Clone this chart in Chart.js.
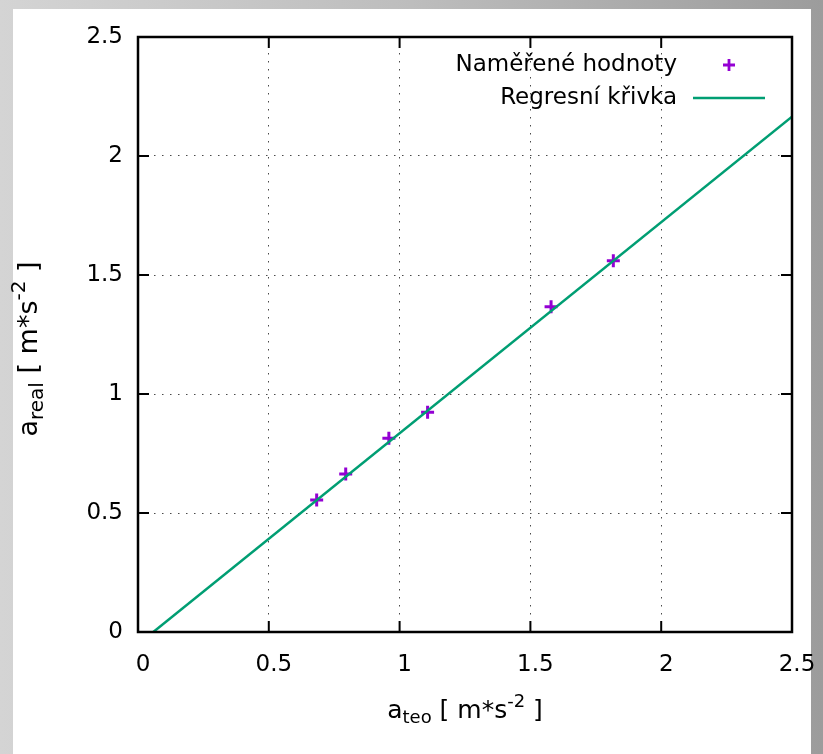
<!DOCTYPE html>
<html><head><meta charset="utf-8">
<script src="https://cdn.jsdelivr.net/npm/chart.js@4/dist/chart.umd.min.js"></script>
<style>
html,body{margin:0;padding:0;width:823px;height:754px;overflow:hidden;}
body{background:linear-gradient(to right,#d4d4d4,#bdbdbd 50%,#9c9c9c);position:relative;}
#paper{position:absolute;left:13px;top:9px;width:798px;height:745px;background:#fff;}
canvas{position:absolute;left:0;top:0;}
</style></head><body>
<div id="paper"></div>
<canvas id="c" width="823" height="754"></canvas>
<script>
const measuredX=[0.683,0.794,0.959,1.107,1.579,1.817];
const measuredY=[0.555,0.664,0.814,0.923,1.367,1.560];
const fitX=[0.0585,2.5];
const fitY=[0,2.165];
const xTicks=[0,0.5,1,1.5,2,2.5];
const yTicks=[0,0.5,1,1.5,2,2.5];
const seriesNames=['Naměřené hodnoty','Regresní křivka'];
const xTitle=[['a',''],['teo','sub'],[' [ m*s',''],['-2','sup'],[' ]','']];
const yTitle=[['a',''],['real','sub'],[' [ m*s',''],['-2','sup'],[' ]','']];

const FONT='"DejaVu Sans"';
const PURPLE='#9400d3', GREEN='#009e73';

function drawRich(ctx,parts,cx,cy,rot,big,small,subDy,supDy){
  ctx.save(); ctx.translate(cx,cy); ctx.rotate(rot);
  const fs=t=>t?(small+'px '+FONT):(big+'px '+FONT);
  let w=0; parts.forEach(([s,t])=>{ctx.font=fs(t); w+=ctx.measureText(s).width;});
  let x=-w/2; ctx.textBaseline='alphabetic'; ctx.textAlign='left'; ctx.fillStyle='#000';
  parts.forEach(([s,t])=>{ctx.font=fs(t); const dy=t==='sub'?subDy:(t==='sup'?supDy:0); ctx.fillText(s,x,dy); x+=ctx.measureText(s).width;});
  ctx.restore();
}

const framePlugin={id:'frame',afterDatasetsDraw(chart){
  const {ctx,chartArea:a,scales:{x,y}}=chart;
  ctx.save(); ctx.strokeStyle='#000'; ctx.lineWidth=2; ctx.setLineDash([]);
  ctx.beginPath();
  xTicks.forEach(v=>{const p=x.getPixelForValue(v); ctx.moveTo(p,a.bottom); ctx.lineTo(p,a.bottom-11); ctx.moveTo(p,a.top); ctx.lineTo(p,a.top+11);});
  yTicks.forEach(v=>{const p=y.getPixelForValue(v); ctx.moveTo(a.left,p); ctx.lineTo(a.left+11,p); ctx.moveTo(a.right,p); ctx.lineTo(a.right-11,p);});
  ctx.stroke();
  ctx.lineWidth=2.5;
  ctx.strokeRect(a.left,a.top,a.right-a.left,a.bottom-a.top);
  ctx.restore();
}};

const legendPlugin={id:'gleg',afterDraw(chart){
  const {ctx,chartArea:a}=chart;
  const tr=a.right-115, r1=a.top+28, r2=a.top+61;
  ctx.save();
  ctx.font='23px '+FONT; ctx.fillStyle='#000'; ctx.textAlign='right'; ctx.textBaseline='middle';
  ctx.fillText(chart.data.datasets[0].label,tr,r1);
  ctx.fillText(chart.data.datasets[1].label,tr,r2);
  const mx=a.right-63;
  ctx.strokeStyle=PURPLE; ctx.lineWidth=2.8; ctx.beginPath();
  ctx.moveTo(mx-6,r1); ctx.lineTo(mx+6,r1); ctx.moveTo(mx,r1-6); ctx.lineTo(mx,r1+6); ctx.stroke();
  ctx.strokeStyle=GREEN; ctx.lineWidth=2.5; ctx.beginPath();
  ctx.moveTo(a.right-99,r2); ctx.lineTo(a.right-27,r2); ctx.stroke();
  ctx.restore();
}};

const titlePlugin={id:'titles',afterDraw(chart){
  const {ctx,chartArea:a}=chart;
  drawRich(ctx,xTitle,(a.left+a.right)/2,a.bottom+86,0,25,18,5,-11);
  drawRich(ctx,yTitle,37,349,-Math.PI/2,27,20,6,-12);
}};

const gridColor=ctx=>(ctx.tick&&(ctx.tick.value===0||ctx.tick.value===2.5))?'rgba(0,0,0,0)':'#4a4a4a';

new Chart(document.getElementById('c'),{
  type:'scatter',
  data:{datasets:[
    {label:seriesNames[0],data:measuredX.map((v,i)=>({x:v,y:measuredY[i]})),pointStyle:'cross',pointRadius:6.5,pointBorderWidth:3,borderColor:PURPLE,backgroundColor:PURPLE,order:1},
    {label:seriesNames[1],data:fitX.map((v,i)=>({x:v,y:fitY[i]})),showLine:true,pointRadius:0,borderColor:GREEN,borderWidth:2.5,backgroundColor:GREEN,order:0}
  ]},
  options:{
    responsive:false,animation:false,devicePixelRatio:1,
    layout:{padding:{left:0,top:37,right:31,bottom:0}},
    plugins:{legend:{display:false},tooltip:{enabled:false}},
    scales:{
      x:{type:'linear',min:0,max:2.5,
        afterBuildTicks:s=>{s.ticks=xTicks.map(v=>({value:v}));},
        afterFit:s=>{s.height=122;s.paddingLeft=0;s.paddingRight=0;},
        ticks:{callback:v=>String(v),font:{family:'DejaVu Sans',size:23},color:'#000',padding:19,labelOffset:5,maxRotation:0,autoSkip:false},
        grid:{drawTicks:false,color:gridColor,lineWidth:1},
        border:{display:false,dash:[1.5,6.5]}},
      y:{type:'linear',min:0,max:2.5,
        afterBuildTicks:s=>{s.ticks=yTicks.map(v=>({value:v}));},
        afterFit:s=>{s.width=138;s.paddingTop=0;s.paddingBottom=0;},
        ticks:{callback:v=>String(v),font:{family:'DejaVu Sans',size:23},color:'#000',padding:15,autoSkip:false},
        grid:{drawTicks:false,color:gridColor,lineWidth:1},
        border:{display:false,dash:[1.5,6.5]}}
    }
  },
  plugins:[framePlugin,legendPlugin,titlePlugin]
});
</script>
</body></html>
